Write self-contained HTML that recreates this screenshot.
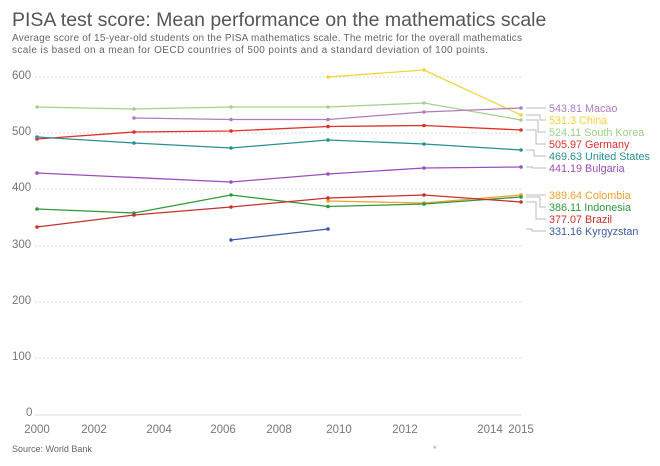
<!DOCTYPE html>
<html><head><meta charset="utf-8"><style>
body{margin:0;background:#fff}
svg{display:block;font-family:"Liberation Sans",sans-serif}
</style></head><body>
<svg width="660" height="466" viewBox="0 0 660 466">
<text x="12" y="26" font-size="19.5" fill="#555">PISA test score: Mean performance on the mathematics scale</text>
<text x="12" y="41" font-size="10" fill="#666" textLength="510">Average score of 15-year-old students on the PISA mathematics scale. The metric for the overall mathematics</text>
<text x="12" y="53" font-size="10" fill="#666" textLength="476">scale is based on a mean for OECD countries of 500 points and a standard deviation of 100 points.</text>
<g stroke="#ddd" stroke-dasharray="2,2" stroke-width="1">
<line x1="35" x2="521" y1="77" y2="77"/><line x1="35" x2="521" y1="133" y2="133"/><line x1="35" x2="521" y1="189" y2="189"/><line x1="35" x2="521" y1="246" y2="246"/><line x1="35" x2="521" y1="302" y2="302"/><line x1="35" x2="521" y1="358" y2="358"/>
</g>
<line x1="35" x2="521" y1="415" y2="415" stroke="#ddd"/>
<g font-size="11.5" fill="#777">
<text x="12" y="79">600</text><text x="12" y="135">500</text><text x="12" y="191">400</text><text x="12" y="248">300</text><text x="12" y="304">200</text><text x="12" y="360">100</text><text x="26" y="416">0</text>
</g>
<g font-size="11.5" fill="#777" text-anchor="middle">
<text x="37" y="433">2000</text><text x="94" y="433">2002</text><text x="159" y="433">2004</text><text x="223" y="433">2006</text><text x="279" y="433">2008</text><text x="339" y="433">2010</text><text x="405" y="433">2012</text><text x="490" y="433">2014</text><text x="521" y="433">2015</text>
</g>
<text x="12" y="452" font-size="9" fill="#666">Source: World Bank</text>
<text x="433" y="452" font-size="9" fill="#999">*</text>
<g fill="none" stroke-width="1.3">
<polyline stroke="#a6d08e" points="37,107 134,109 231,107 328,107 424,103 521,120"/>
<polyline stroke="#f5d43c" points="328,77 424,70 521,115"/>
<polyline stroke="#b07cc0" points="134,118 231,119.5 328,119.5 424,112 521,108"/>
<polyline stroke="#e0302a" points="37,139 134,132 231,131 328,126.5 424,125.5 521,130"/>
<polyline stroke="#2a9090" points="37,137 134,143 231,148 328,140 424,144 521,150"/>
<polyline stroke="#9b4fba" points="37,173 231,182 328,174 424,168 521,167"/>
<polyline stroke="#f0a030" points="328,201 424,203 521,195"/>
<polyline stroke="#2e9a3a" points="37,209 134,213 231,195 328,206.5 424,204 521,197"/>
<polyline stroke="#c83030" points="37,227 134,215 231,207 328,198 424,195 521,202"/>
<polyline stroke="#3a5ca8" points="231,240 328,229"/>
</g>
<g>
<g fill="#a6d08e"><circle cx="37" cy="107" r="1.8"/><circle cx="134" cy="109" r="1.8"/><circle cx="231" cy="107" r="1.8"/><circle cx="328" cy="107" r="1.8"/><circle cx="424" cy="103" r="1.8"/><circle cx="521" cy="120" r="1.8"/></g>
<g fill="#f5d43c"><circle cx="328" cy="77" r="1.8"/><circle cx="424" cy="70" r="1.8"/><circle cx="521" cy="115" r="1.8"/></g>
<g fill="#b07cc0"><circle cx="134" cy="118" r="1.8"/><circle cx="231" cy="119.5" r="1.8"/><circle cx="328" cy="119.5" r="1.8"/><circle cx="424" cy="112" r="1.8"/><circle cx="521" cy="108" r="1.8"/></g>
<g fill="#e0302a"><circle cx="37" cy="139" r="1.8"/><circle cx="134" cy="132" r="1.8"/><circle cx="231" cy="131" r="1.8"/><circle cx="328" cy="126.5" r="1.8"/><circle cx="424" cy="125.5" r="1.8"/><circle cx="521" cy="130" r="1.8"/></g>
<g fill="#2a9090"><circle cx="37" cy="137" r="1.8"/><circle cx="134" cy="143" r="1.8"/><circle cx="231" cy="148" r="1.8"/><circle cx="328" cy="140" r="1.8"/><circle cx="424" cy="144" r="1.8"/><circle cx="521" cy="150" r="1.8"/></g>
<g fill="#9b4fba"><circle cx="37" cy="173" r="1.8"/><circle cx="231" cy="182" r="1.8"/><circle cx="328" cy="174" r="1.8"/><circle cx="424" cy="168" r="1.8"/><circle cx="521" cy="167" r="1.8"/></g>
<g fill="#f0a030"><circle cx="328" cy="201" r="1.8"/><circle cx="424" cy="203" r="1.8"/><circle cx="521" cy="195" r="1.8"/></g>
<g fill="#2e9a3a"><circle cx="37" cy="209" r="1.8"/><circle cx="134" cy="213" r="1.8"/><circle cx="231" cy="195" r="1.8"/><circle cx="328" cy="206.5" r="1.8"/><circle cx="424" cy="204" r="1.8"/><circle cx="521" cy="197" r="1.8"/></g>
<g fill="#c83030"><circle cx="37" cy="227" r="1.8"/><circle cx="134" cy="215" r="1.8"/><circle cx="231" cy="207" r="1.8"/><circle cx="328" cy="198" r="1.8"/><circle cx="424" cy="195" r="1.8"/><circle cx="521" cy="202" r="1.8"/></g>
<g fill="#3a5ca8"><circle cx="231" cy="240" r="1.8"/><circle cx="328" cy="229" r="1.8"/></g>
</g>
<g fill="none" stroke="#bbb" stroke-width="1">
<polyline points="526,108 546,108"/>
<polyline points="526,115 540,115 540,120 546,120"/>
<polyline points="526,120 538,120 538,132 546,132"/>
<polyline points="526,130 536,130 536,144 546,144"/>
<polyline points="526,150 534,150 534,156 546,156"/>
<polyline points="526,167 532,167 532,168 546,168"/>
<polyline points="526,195 546,195"/>
<polyline points="526,197 540,197 540,207 546,207"/>
<polyline points="526,202 536,202 536,219 546,219"/>
<polyline points="526,229 532,229 532,231 546,231"/>
</g>
<g font-size="10.8">
<text x="549" y="112" fill="#b07cc0">543.81 Macao</text>
<text x="549" y="124" fill="#f5d03a">531.3 China</text>
<text x="549" y="136" fill="#9ecf8a">524.11 South Korea</text>
<text x="549" y="148" fill="#e0302a">505.97 Germany</text>
<text x="549" y="160" fill="#2a9090">469.63 United States</text>
<text x="549" y="172" fill="#9b4fba">441.19 Bulgaria</text>
<text x="549" y="199" fill="#f0a030">389.64 Colombia</text>
<text x="549" y="211" fill="#2e9a3a">386.11 Indonesia</text>
<text x="549" y="223" fill="#c83030">377.07 Brazil</text>
<text x="549" y="235" fill="#3a5ca8">331.16 Kyrgyzstan</text>
</g>
</svg>
</body></html>
